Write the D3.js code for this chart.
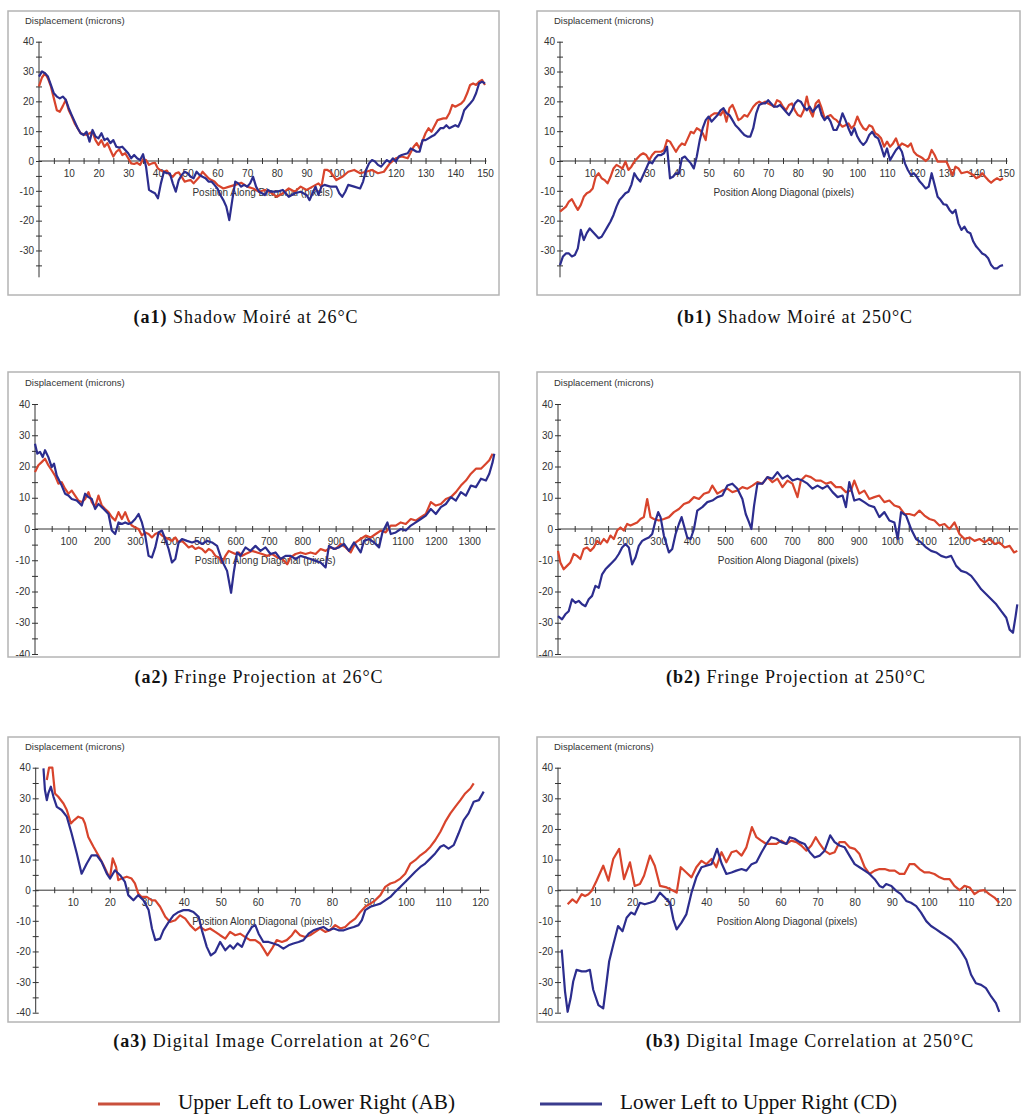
<!DOCTYPE html>
<html>
<head>
<meta charset="utf-8">
<script src="https://cdn.jsdelivr.net/npm/d3@7"></script>
<style>
  body { margin: 0; background: #fff; }
  svg { display: block; }
  .tick text { font-family: "Liberation Sans", Arial, sans-serif; font-size: 10px; fill: #333; }
  .axis path, .axis line { stroke: #333; }
</style>
</head>
<body>
<svg id="chart" width="1022" height="1114"></svg>
<script>
// ---- data: [position, displacement] ----
var a1Upper = [[0,25],[1,28],[2,29.4],[3,27.7],[4,25],[5,21],[6,17],[7,16.5],[8,18.4],[9,20.5],[10,17],[11,15],[12,12.6],[13,11],[14,9.3],[16,8.7],[18,9.8],[19,7],[20,5.4],[21,7],[22,4.8],[23,6],[24,3.7],[25,1.5],[26,3.1],[27,3.9],[28,2],[29,2.6],[30,0.9],[31,-0.8],[32,-1],[33,-0.6],[34,-1.3],[35,0.6],[36,0.3],[37,-1.3],[38,-0.8],[39,-0.6],[40,-2.5],[41,-3.2],[42,-3.6],[43,-3.2],[44,-4.7],[45,-5.3],[46,-4.1],[47,-3.8],[48,-5.3],[49,-6.9],[50,-6.6],[51,-6.4],[52,-7.5],[53,-6.4],[54,-5.3],[55,-3.6],[56,-4.7],[57,-5.8],[58,-6.4],[59,-6.9],[60,-8],[62,-9.2],[64,-8.6],[66,-8],[68,-7.3],[70,-8.6],[72,-9.2],[74,-10.3],[76,-9.7],[78,-10.6],[80,-12],[82,-10.8],[84,-9.2],[86,-10.3],[88,-8.6],[90,-9.7],[92,-8.6],[94,-7.5],[95,-8.6],[96,-3],[97,-3],[98,-3.6],[100,-6.4],[102,-5.3],[104,-3.6],[106,-3],[108,-4.1],[110,-3.6],[112,-3],[114,-4.1],[116,-3.6],[118,-0.8],[120,0.9],[122,1.5],[124,0.9],[126,4.8],[127,6],[128,4.2],[130,9.3],[131,11],[132,9.8],[134,13.7],[136,14.3],[137,14.3],[138,16],[139,18.8],[140,18.2],[142,19.3],[143,20.4],[144,22.7],[145,25.5],[146,26],[147,25.5],[148,26.6],[149,27.2],[150,25.5]];
var a1Lower = [[0,28.3],[1,30],[2,29.4],[3,28.3],[4,25.5],[5,22.7],[6,21.6],[7,21],[8,21.6],[9,20.5],[10,17.7],[11,15.4],[12,13.2],[13,11],[14,9.3],[15,8.7],[16,9.8],[17,6.5],[18,10.4],[19,8.2],[20,7.6],[21,9.3],[22,7],[23,7.6],[24,6],[25,7],[26,4.8],[27,4.5],[28,4.8],[29,3.7],[30,2.6],[31,0.9],[32,2],[33,0.9],[34,0.3],[35,2.3],[36,-1.9],[37,-9.7],[38,-10.3],[39,-10.8],[40,-12.5],[41,-7.5],[42,-3.6],[43,-4.1],[44,-4.1],[45,-7.5],[46,-10.3],[47,-6.4],[48,-4.7],[49,-3.6],[50,-4.1],[51,-5.3],[52,-5.8],[53,-3.6],[54,-4.7],[55,-5.3],[56,-5.8],[57,-6.9],[58,-6.9],[59,-8],[60,-9.2],[61,-11.4],[62,-13.1],[63,-15.3],[64,-19.8],[65,-13.1],[66,-6.9],[67,-7.5],[68,-8.6],[69,-8],[70,-8.6],[71,-7.5],[72,-5.3],[73,-8.6],[74,-10.3],[75,-10.8],[76,-11.4],[77,-9.7],[78,-10.3],[80,-10.3],[82,-9.7],[84,-12],[86,-10.8],[88,-10.3],[90,-11.4],[91,-13.1],[92,-10.8],[93,-8.6],[94,-11.4],[95,-8.6],[96,-8],[98,-8.6],[100,-8.6],[101,-10.8],[102,-12],[103,-10.3],[104,-8],[106,-8.6],[108,-9.2],[109,-6.9],[110,-3],[111,-0.8],[112,0.3],[113,-0.2],[114,-1.3],[115,-1.9],[116,-0.8],[117,0.3],[118,-0.4],[119,0.9],[120,-0.2],[121,1.5],[122,2],[124,2.6],[125,4.2],[126,3.7],[127,3.1],[128,3.1],[129,7],[130,7],[131,7.6],[132,8.2],[133,8.7],[134,9.8],[135,11],[136,11],[137,12],[138,11],[139,11.5],[140,12],[141,11.5],[142,13.7],[143,17],[144,18.2],[145,19.3],[146,20.5],[147,22.7],[148,26],[149,26.6],[150,26]];

var b1Upper = [[0,-17],[2,-15.3],[3,-13.6],[4,-12.8],[5,-14.7],[6,-16.4],[7,-14.7],[8,-12],[9,-10.8],[10,-10.3],[11,-9.2],[12,-5.3],[13,-4.1],[14,-5.8],[15,-6.4],[16,-7.5],[17,-5.3],[18,-2.5],[19,-1.3],[20,-1.9],[21,-2.5],[22,-0.2],[23,-3],[24,-1.9],[25,-0.2],[26,0.9],[27,2],[28,2.6],[29,2],[30,0.3],[31,2],[32,3.1],[33,3.1],[34,3.1],[35,3.7],[36,7],[37,6.5],[38,4.8],[39,3.1],[40,4.8],[41,5.9],[42,5.4],[43,7.6],[44,9.8],[45,9.3],[46,11],[47,10.4],[48,9.3],[49,7],[50,14.3],[51,15.4],[52,16],[53,16],[54,15.4],[55,17],[56,13.2],[57,17.7],[58,18.8],[59,16.5],[60,13.7],[61,14.3],[62,15.4],[63,14.9],[64,16.5],[65,18.2],[66,19.3],[67,19.9],[68,19.3],[69,19.9],[70,19.3],[71,18.8],[72,18.2],[73,20.4],[74,19.9],[75,18.2],[76,17],[77,18.8],[78,19.3],[79,17],[80,15.4],[81,14.9],[82,17],[83,21.6],[84,17],[85,14.9],[86,19.3],[87,20.4],[88,17.7],[89,14.3],[90,14.9],[91,15.4],[92,14.3],[93,13.7],[94,12.6],[95,11.5],[96,12],[97,12.6],[98,11],[99,12],[100,14.9],[101,12.6],[102,11],[103,10.4],[104,12],[105,11.5],[106,9.3],[107,8.7],[108,7.6],[109,4.8],[110,6.5],[111,4.8],[112,5.9],[113,7.6],[114,4.8],[115,5.9],[116,5.4],[117,4.8],[118,5.9],[119,3.1],[120,2],[121,1.5],[122,0.9],[123,0],[124,0.9],[125,3.7],[126,2],[127,-0.2],[128,-0.2],[130,-0.2],[131,-2.5],[132,-4.7],[133,-1.9],[134,-2.5],[135,-4.1],[137,-3.6],[139,-4.7],[140,-5.8],[141,-5.3],[142,-4.1],[143,-5.3],[144,-6.4],[145,-7.3],[146,-6.4],[147,-5.8],[148,-6.4],[149,-5.8]];
var b1Lower = [[0,-34.9],[1,-32],[2,-31],[3,-31],[4,-32],[5,-31.5],[6,-29.3],[7,-23.1],[8,-26.5],[9,-24.2],[10,-22.6],[11,-23.7],[12,-24.8],[13,-25.9],[14,-25.4],[15,-23.7],[16,-22],[17,-20.3],[18,-18.1],[19,-15.3],[20,-13.1],[21,-12],[22,-10.8],[23,-10.3],[24,-8],[25,-4.1],[26,-5.8],[27,-6.9],[28,-4.7],[29,-2.5],[30,-0.2],[31,-0.8],[32,0.9],[33,2],[34,2],[35,2.6],[36,4.8],[37,-5.8],[38,-5.3],[39,-4.1],[40,-4.1],[41,0.9],[42,1.5],[43,0.3],[44,-0.8],[45,-2.5],[46,1.5],[47,7],[48,11],[49,13.7],[50,14.9],[51,13.2],[52,14.3],[53,15.4],[54,17],[55,17.7],[56,16],[57,15.4],[58,13.7],[59,12],[60,11],[61,9.8],[62,8.7],[63,8.2],[64,8.2],[65,11],[66,16],[67,18.8],[68,19.3],[69,19.3],[70,20.4],[71,19.3],[72,18.2],[73,18.2],[74,18.8],[75,17.7],[76,16.5],[77,15.4],[78,17],[79,19.3],[80,20.4],[81,19.9],[82,18.2],[83,17],[84,18.2],[85,16.5],[86,17.7],[87,18.8],[88,15.4],[89,13.7],[90,14.9],[91,13.2],[92,10.4],[93,10.4],[94,12.6],[95,16],[96,13.7],[97,11],[98,8.7],[99,11],[100,8.2],[101,6.5],[102,5.4],[103,6.5],[104,8.7],[105,9.8],[106,8.2],[107,7.6],[108,4.8],[109,1.5],[110,4.2],[111,0.3],[112,2],[113,3.7],[114,4.8],[115,3.1],[116,-0.8],[117,-3],[118,-4.7],[119,-4.1],[120,-5.3],[121,-6.9],[122,-8],[123,-9.2],[124,-8.6],[125,-4.1],[126,-8],[127,-12],[128,-13.1],[129,-14.5],[130,-14.7],[131,-16.4],[132,-17.5],[133,-16.4],[134,-20.9],[135,-23.1],[136,-22],[137,-23.7],[138,-24.2],[139,-27],[140,-28.7],[141,-29.8],[142,-31],[143,-31.5],[144,-32.6],[145,-34.9],[146,-36],[147,-36],[148,-35.2],[149,-34.9]];

var a2Upper = [[0,18.2],[10,20.4],[20,21.4],[30,22.5],[40,20.4],[50,18.8],[60,17.1],[70,14.5],[80,15],[90,12.9],[100,11.3],[110,12.3],[120,10.7],[130,9.1],[140,8.6],[150,9.6],[160,11.8],[170,8.6],[180,7],[190,10.7],[200,7.5],[210,6.4],[220,5.4],[230,3.8],[240,2.7],[250,5.4],[260,3.2],[270,5.4],[280,2.7],[290,1.1],[300,0.5],[310,0],[320,-2.1],[330,-1.1],[340,-1.6],[350,-2.7],[360,-1.6],[370,-1.1],[380,-2.1],[390,-2.7],[400,-3.2],[410,-3.8],[420,-2.7],[430,-4.3],[440,-3.8],[450,-4.8],[460,-5.9],[470,-5.4],[480,-6.4],[490,-5.9],[500,-6.4],[510,-7.5],[520,-6.4],[530,-7],[540,-8.6],[550,-9.1],[560,-10.7],[570,-8.6],[580,-7],[590,-7.5],[600,-8],[610,-7.5],[620,-8.6],[630,-8],[640,-7.5],[650,-7],[665,-7.5],[680,-8],[695,-8.6],[710,-8],[725,-9.1],[740,-9.6],[755,-11.3],[765,-9.1],[780,-8],[795,-7.5],[810,-8],[825,-7.5],[840,-8],[855,-6.4],[870,-7],[885,-5.9],[900,-6.4],[915,-4.8],[930,-5.9],[945,-7.5],[960,-4.3],[975,-3.2],[990,-2.1],[1005,-2.7],[1020,-1.6],[1035,-0.5],[1050,-1.1],[1065,1.1],[1080,1.1],[1095,2.1],[1110,1.6],[1125,3.2],[1140,2.7],[1155,3.8],[1170,4.8],[1185,8.6],[1200,7.5],[1215,8],[1230,9.6],[1245,10.2],[1260,11.8],[1275,13.9],[1290,15.5],[1305,17.7],[1320,19.3],[1335,19.3],[1350,20.9],[1360,22],[1370,24.1]];
var a2Lower = [[0,27.3],[7,24.1],[15,24.7],[23,23],[30,25.2],[40,23],[50,19.8],[57,20.9],[65,17.1],[80,13.9],[90,11.3],[100,10.7],[110,9.6],[125,9.1],[140,7.5],[150,11.3],[160,10.2],[170,9.6],[180,6.4],[190,8],[200,7],[210,5.9],[220,4.8],[230,-0.5],[240,-1.6],[250,2.1],[260,1.6],[270,2.1],[280,1.6],[290,2.1],[300,3.2],[310,4.8],[320,2.1],[330,-2.1],[340,-8.6],[350,-9.1],[360,-5.9],[370,-1.1],[380,-0.5],[390,-3.2],[400,-6.4],[410,-10.7],[420,-9.6],[430,-4.3],[440,-3.2],[455,-3.8],[470,-4.3],[485,-3.8],[500,-4.8],[515,-3.8],[530,-4.3],[545,-5.4],[560,-10.2],[575,-13.4],[587,-20.4],[595,-13.9],[605,-7.5],[615,-8.6],[630,-5.9],[645,-7],[660,-5.4],[675,-7],[690,-5.9],[705,-8],[720,-7.5],[735,-9.6],[750,-8.6],[765,-8.6],[780,-9.6],[795,-8.6],[810,-9.1],[825,-9.6],[840,-10.2],[855,-10.7],[870,-12.3],[880,-5.4],[895,-6.4],[910,-5.9],[925,-4.8],[940,-7],[955,-4.3],[975,-7.5],[985,-3.8],[1000,-3.2],[1015,-4.3],[1030,-5.9],[1040,-1.1],[1055,2.1],[1065,-1.6],[1080,-1.1],[1095,0],[1110,-0.5],[1125,1.1],[1140,2.1],[1155,3.2],[1170,4.3],[1185,6.4],[1200,4.8],[1215,7],[1230,8],[1245,10.2],[1260,9.1],[1275,11.8],[1290,10.7],[1305,13.9],[1320,13.4],[1335,16.1],[1350,15.5],[1360,17.7],[1370,21.4],[1375,24.1]];

var b2Upper = [[0,-7],[7,-10.7],[17,-12.9],[27,-11.8],[37,-10.7],[47,-8],[57,-8.6],[67,-9.6],[77,-6.4],[87,-5.9],[97,-7],[107,-5.9],[117,-3.8],[127,-4.8],[137,-3.2],[147,-4.3],[157,-2.1],[167,-3.2],[177,-0.5],[187,0.5],[197,-0.5],[207,1.6],[217,1.1],[227,1.6],[237,2.1],[247,3.2],[257,3.8],[267,9.6],[277,3.8],[287,3.2],[302,2.7],[317,3.2],[332,3.8],[347,5.4],[362,6.4],[377,8],[392,8.6],[407,10.2],[422,9.6],[437,11.3],[452,11.8],[462,13.9],[477,11.3],[492,12.3],[507,12.9],[522,11.8],[537,12.3],[552,13.4],[567,12.9],[582,13.9],[597,15],[612,14.5],[627,16.6],[642,15],[657,16.1],[672,13.4],[687,15.5],[702,14.5],[717,10.2],[727,15.5],[742,17.1],[757,16.6],[772,15.5],[787,15.5],[802,14.5],[817,15],[832,13.4],[847,13.4],[862,11.8],[877,12.3],[887,15.5],[902,11.3],[917,12.3],[932,9.6],[947,10.2],[962,10.7],[977,8.6],[992,9.1],[1007,7.5],[1022,7],[1037,4.8],[1052,4.8],[1067,4.3],[1082,5.9],[1097,4.3],[1112,3.2],[1127,2.7],[1142,1.1],[1157,1.6],[1172,0],[1187,2.1],[1202,-1.6],[1217,-3.2],[1232,-2.7],[1247,-3.8],[1262,-3.2],[1277,-4.3],[1292,-3.2],[1307,-4.8],[1322,-4.3],[1337,-5.9],[1352,-5.4],[1365,-7.5],[1375,-7]];
var b2Lower = [[0,-27.9],[12,-28.9],[22,-27.3],[32,-26.3],[42,-22.5],[52,-23.6],[62,-23],[72,-24.1],[82,-24.7],[92,-22.5],[102,-21.4],[112,-18.2],[122,-18.8],[132,-14.5],[142,-12.9],[152,-11.8],[162,-10.7],[172,-9.6],[182,-8],[192,-5.9],[202,-4.8],[212,-5.9],[222,-11.3],[232,-9.1],[242,-5.4],[252,-3.8],[262,-3.2],[272,-2.7],[282,-1.6],[292,2.7],[300,5.4],[307,3.8],[317,-2.1],[332,-7.5],[342,-6.4],[352,-1.6],[362,1.6],[370,3.8],[377,1.1],[387,-2.7],[397,-3.2],[407,0],[417,5.9],[432,7],[447,8.6],[462,9.1],[477,10.2],[492,10.7],[507,13.9],[522,14.5],[537,12.9],[552,9.6],[562,4.8],[572,2.1],[579,0],[587,7.5],[597,14.5],[612,14.5],[627,16.6],[642,16.1],[657,18.2],[672,16.1],[687,17.1],[702,15.5],[717,16.1],[732,15.5],[747,14.5],[762,12.9],[777,13.9],[792,12.9],[807,13.9],[822,11.8],[837,10.2],[852,10.7],[862,7],[872,15],[887,9.1],[902,9.6],[917,8.6],[932,7.5],[947,7],[962,3.8],[977,5.4],[992,2.7],[1007,2.1],[1017,-3.2],[1027,5.4],[1042,4.3],[1057,0],[1072,-3.2],[1087,-4.3],[1102,-5.9],[1117,-7],[1132,-7.5],[1147,-8.6],[1162,-9.1],[1177,-8.6],[1192,-11.8],[1207,-13.4],[1222,-13.9],[1237,-15],[1252,-17.1],[1267,-19.3],[1282,-20.9],[1297,-22.5],[1312,-24.1],[1327,-26.3],[1342,-28.4],[1352,-32.2],[1362,-33.2],[1370,-27.9],[1375,-24.1]];

var a3Upper = [[3,36],[3.6,40],[4.5,40],[5.2,31.6],[6.1,30.5],[7.5,28.3],[8.4,26.2],[9.5,21.8],[10.4,22.9],[11.5,24],[12.7,23.4],[13.3,21.8],[14.2,17.4],[15.6,14.2],[16.9,11.4],[18.3,8.2],[19.6,4.9],[20.1,4.4],[20.8,10.4],[21.7,7.6],[22.3,3.3],[23.2,3.8],[24.6,4.4],[25.9,3.8],[26.8,2.2],[27.7,-1.1],[28.6,-2.2],[30,-2.2],[31.4,-3.3],[32.3,-3.3],[33.6,-5.4],[35,-8.7],[36.3,-10.4],[37.7,-9.8],[39,-8.2],[40.4,-9.3],[41.7,-11.4],[43.1,-13.1],[44.4,-12],[45.8,-13.1],[47.1,-12.5],[48.5,-13.6],[49.8,-14.7],[51.2,-15.8],[52.5,-13.6],[53.9,-14.7],[55.2,-14.2],[56.6,-15.3],[57.9,-16.3],[59.3,-16.3],[60.6,-17.4],[61.5,-19.1],[62.6,-21.3],[63.8,-19.1],[65.1,-16.3],[66.5,-16.9],[67.8,-16.3],[69.2,-14.7],[70.1,-13.1],[71.4,-14.7],[72.8,-15.3],[74.1,-14.7],[75.5,-13.6],[76.8,-12.5],[78.2,-13.6],[79.5,-13.1],[80.9,-11.4],[82.3,-12.5],[83.6,-12],[85,-10.4],[86.3,-9.3],[87.7,-7.1],[89,-5.4],[90.4,-4.4],[91.7,-3.3],[93.1,-1.6],[94.4,1.1],[95.8,2.2],[97.1,2.7],[98.5,3.8],[99.8,5.4],[101.2,8.7],[102.5,9.8],[103.9,11.4],[105.2,12.5],[106.6,14.2],[107.9,16.3],[109.3,19.1],[110.6,22.3],[112,25.1],[113.3,27.2],[114.7,29.4],[116,31.6],[117.4,33.2],[118.3,34.9]];
var a3Lower = [[2.1,39.8],[2.5,32.7],[3,29.4],[3.4,31.6],[4.1,33.8],[4.8,30.5],[5.7,27.2],[7,26.2],[8.4,24],[9.7,18.5],[11.1,12],[12.4,5.4],[13.8,8.7],[15.1,11.4],[16.5,11.4],[17.8,9.3],[19.2,5.4],[20.1,3.8],[21.4,6.5],[22.8,4.9],[24.1,2.7],[25,-1.6],[26.4,-3.3],[27.7,-1.6],[29.1,-3.3],[30.5,-6.5],[31.4,-12.5],[32.3,-16.3],[33.6,-15.8],[34.5,-13.1],[35.9,-10.4],[37.2,-8.2],[38.6,-7.1],[39.9,-6.5],[41.3,-6.5],[42.6,-7.1],[44,-8.7],[44.9,-13.1],[46.2,-18.5],[47.3,-21.3],[48.5,-20.2],[49.8,-16.9],[51.2,-19.6],[52.5,-18],[53.4,-19.1],[54.5,-17.4],[55.7,-18.5],[57,-14.7],[58.4,-12],[59.3,-11.4],[60.2,-14.2],[61.5,-16.9],[62.9,-16.9],[64.2,-17.4],[65.6,-18],[66.9,-19.1],[68.3,-18],[69.6,-17.4],[71,-16.9],[72.3,-16.3],[73.7,-14.2],[75,-13.1],[76.4,-12.5],[77.7,-12],[79.1,-13.1],[80.5,-12.5],[81.8,-13.1],[83.2,-13.1],[84.5,-12.5],[85.9,-12],[87.2,-11.4],[88.1,-9.8],[89,-6.5],[90.4,-5.4],[91.7,-4.9],[93.1,-4.4],[94.4,-3.3],[95.8,-2.2],[97.1,-0.5],[98.5,1.1],[99.8,2.7],[101.2,4.4],[102.5,6],[103.9,7.6],[105.2,8.7],[106.6,10.4],[107.9,12],[109.3,14.2],[110.2,14.7],[111.5,13.6],[112.9,14.7],[114.2,18.5],[115.6,22.9],[116.9,25.1],[118.3,28.9],[119.7,29.4],[121,32.2]];

var b3Upper = [[2.6,-4.6],[3.9,-3],[5,-4.1],[6.4,-1.3],[7.3,-1.9],[8.2,-1.3],[9.1,-0.2],[10.4,3.1],[12.2,8],[13.6,3.1],[14.9,10.2],[16.5,13.5],[17.8,3.6],[19.4,9.1],[20.7,1.4],[22.1,2],[23.2,4.7],[24.8,11.3],[26.1,8],[27.5,1.4],[29.3,0.9],[31.1,-0.2],[32,-0.8],[33.1,7.5],[34.6,5.8],[36,4.2],[37.3,7.5],[38.7,9.6],[40,8.5],[41.4,10.2],[42.7,7.5],[44.1,12.4],[45.4,9.1],[46.8,12.4],[48.1,12.9],[49.5,11.3],[50.8,14],[52.3,20.6],[53.5,17.3],[54.8,16.2],[56.2,15.1],[57.5,15.1],[58.9,15.1],[60.2,16.2],[61.6,15.1],[62.9,16.2],[64.3,15.7],[65.6,14.6],[67,12.9],[68.3,14.6],[69.5,17.3],[70.6,15.1],[71.9,12.9],[73.3,11.8],[74.6,12.4],[75.9,15.7],[77.3,15.7],[78.6,14],[80,13.5],[81.3,11.8],[82.7,7.5],[84,5.3],[85.4,6.4],[86.7,6.9],[88.1,6.9],[89.4,6.4],[90.8,6.4],[92.1,5.3],[93.4,5.3],[94.8,8.5],[96.1,8.5],[97.5,6.9],[98.8,5.8],[100.2,5.8],[101.5,5.3],[102.9,4.2],[104.2,3.6],[105.6,3.6],[106.9,1.4],[108.3,0],[109.6,1.4],[111,0.9],[112.3,-1.3],[113.6,-0.2],[115,0],[116.3,-1.3],[117.7,-2.4],[119,-4.1]];
var b3Lower = [[1,-19.4],[1.9,-33.1],[2.6,-39.7],[3.4,-35.3],[4.1,-29.8],[5,-26],[6.4,-26.5],[7.5,-26.5],[8.6,-26],[9.5,-32.5],[10.9,-37.5],[12.2,-38.6],[12.9,-32],[13.8,-23.2],[14.9,-17.8],[16.2,-11.7],[17.4,-13.4],[18.5,-9],[19.7,-7.3],[20.7,-7.9],[22.1,-4.1],[23.4,-4.6],[24.8,-4.1],[26.1,-3.5],[27.5,-0.8],[28.8,-2.4],[30.2,-4.1],[31.1,-9.5],[32,-12.8],[33.3,-10.6],[34.6,-7.9],[36,-0.8],[37.3,4.2],[38.7,7.5],[40,8],[41.4,8.5],[42.9,13.5],[44.1,8.8],[45.4,5.3],[46.8,5.8],[48.1,6.4],[49.5,6.9],[50.8,6.4],[52.2,8.5],[53.5,9.1],[54.9,12.4],[56.2,15.1],[57.5,17.3],[58.9,16.8],[60.2,15.7],[61.6,15.1],[62.5,17.3],[63.8,16.8],[65.2,15.7],[66.5,15.1],[67.9,12.4],[69.2,10.7],[70.6,11.3],[71.9,12.9],[73.4,17.9],[74.6,15.7],[75.9,14.6],[77.3,14],[78.6,11.3],[80,8.5],[81.3,7.5],[82.7,6.4],[84,5.3],[85.4,3.6],[86.7,1.4],[87.6,0.9],[88.5,2],[89.9,1.4],[91.2,-0.2],[92.5,-1.3],[93.9,-3.5],[95.2,-4.1],[96.6,-5.2],[97.9,-7.3],[99.3,-10.1],[100.6,-11.7],[102,-12.8],[103.3,-13.9],[104.7,-15],[106,-16.1],[107.4,-17.8],[108.7,-19.9],[110.1,-22.7],[111.4,-27.6],[112.7,-30.4],[114.1,-30.9],[115.4,-32],[116.8,-34.7],[118.1,-36.9],[119,-39.7]];

var captionTags = ["(a1)", "(b1)", "(a2)", "(b2)", "(a3)", "(b3)"];
var captionTexts = [" Shadow Moiré at 26°C", " Shadow Moiré at 250°C", " Fringe Projection at 26°C",
                    " Fringe Projection at 250°C", " Digital Image Correlation at 26°C", " Digital Image Correlation at 250°C"];
var legendLabels = ["Upper Left to Lower Right (AB)", "Lower Left to Upper Right (CD)"];
var yAxisTitle = "Displacement (microns)";
var xAxisTitle = "Position Along Diagonal (pixels)";

var RED = "#d8442c", BLUE = "#2c2d8e";

// panel layout (pixels) built around the data above
var panels = [
  {box: [8, 11, 499, 295], xd: [0, 150], xr: [39, 485], xEnd: 150.5, yr: [280.3, 41.7], yMin: -39, xStep: 5, xLab: 10, lines: [a1Upper, a1Lower], cap: [246, 323]},
  {box: [537, 11, 1020, 295], xd: [0, 150], xr: [560, 1006], xEnd: 150.5, yr: [280.3, 41.7], yMin: -39, xStep: 5, xLab: 10, lines: [b1Upper, b1Lower], cap: [795, 323]},
  {box: [8, 372, 499, 657], xd: [0, 1375], xr: [35, 494.3], xEnd: 1378, yr: [654, 404], yMin: -40, xStep: 50, xLab: 100, lines: [a2Upper, a2Lower], cap: [259, 683]},
  {box: [537, 372, 1020, 657], xd: [0, 1375], xr: [558, 1017.3], xEnd: 1378, yr: [654, 404], yMin: -40, xStep: 50, xLab: 100, lines: [b2Upper, b2Lower], cap: [796, 683]},
  {box: [8, 737, 499, 1022], xd: [0, 120], xr: [35.7, 480], xEnd: 122.5, yr: [1012.7, 767.7], yMin: -40, xStep: 5, xLab: 10, lines: [a3Upper, a3Lower], cap: [272, 1047]},
  {box: [537, 737, 1020, 1022], xd: [0, 120], xr: [558, 1003], xEnd: 123.5, yr: [1012.7, 767.7], yMin: -40, xStep: 5, xLab: 10, lines: [b3Upper, b3Lower], cap: [810, 1047]}
];

var svg = d3.select("#chart");

function crossTicks(g, vertical) {
  g.select(".domain").remove();
  g.selectAll(".tick line")
    .attr(vertical ? "x1" : "y1", -3)
    .attr(vertical ? "x2" : "y2", 3)
    .attr("stroke-width", 1);
}

panels.forEach(function(p, i) {
  var b = p.box;
  var x = d3.scaleLinear().domain(p.xd).range(p.xr);
  var y = d3.scaleLinear().domain([-40, 40]).range(p.yr);
  var clipId = "clip" + i;

  svg.append("clipPath").attr("id", clipId)
    .append("rect").attr("x", b[0]).attr("y", b[1]).attr("width", b[2] - b[0]).attr("height", b[3] - b[1]);

  var g = svg.append("g").attr("clip-path", "url(#" + clipId + ")");

  // x axis at y = 0
  var xTicks = d3.range(p.xStep, p.xEnd, p.xStep);
  var xg = g.append("g").attr("class", "axis")
    .attr("transform", "translate(0," + y(0) + ")")
    .call(d3.axisBottom(x).tickValues(xTicks).tickSize(3).tickPadding(6)
      .tickFormat(function(d) { return d % p.xLab === 0 ? d : ""; }));
  crossTicks(xg, false);
  xg.append("line").attr("x1", x(0)).attr("x2", x(p.xEnd)).attr("stroke", "#333");

  // y axis at x = 0
  var yTicks = d3.range(p.yMin <= -40 ? -40 : -35, 40.1, 5);
  var yg = g.append("g").attr("class", "axis")
    .attr("transform", "translate(" + x(0) + ",0)")
    .call(d3.axisLeft(y).tickValues(yTicks).tickSize(3).tickPadding(2)
      .tickFormat(function(d) { return d % 10 === 0 ? d : ""; }));
  crossTicks(yg, true);
  yg.append("line").attr("y1", y(40)).attr("y2", y(p.yMin)).attr("stroke", "#333");

  // axis titles
  g.append("text").attr("x", b[0] + 17).attr("y", y(40) - 18)
    .attr("font-family", "Liberation Sans, Arial, sans-serif").attr("font-size", 9.5).attr("fill", "#333")
    .text(yAxisTitle);
  g.append("text").attr("x", (x(0) + x(p.xEnd)) / 2).attr("y", y(0) + 35)
    .attr("text-anchor", "middle")
    .attr("font-family", "Liberation Sans, Arial, sans-serif").attr("font-size", 10).attr("fill", "#333")
    .text(xAxisTitle);

  // curves
  var line = d3.line().x(function(d) { return x(d[0]); }).y(function(d) { return y(d[1]); });
  [RED, BLUE].forEach(function(c, k) {
    g.append("path").datum(p.lines[k])
      .attr("d", line).attr("fill", "none").attr("stroke", c)
      .attr("stroke-width", 2.2).attr("stroke-linejoin", "round");
  });

  // frame
  svg.append("rect").attr("x", b[0]).attr("y", b[1]).attr("width", b[2] - b[0]).attr("height", b[3] - b[1])
    .attr("fill", "none").attr("stroke", "#b4b4b4").attr("stroke-width", 1.5);

  // caption
  var t = svg.append("text").attr("x", p.cap[0]).attr("y", p.cap[1]).attr("text-anchor", "middle")
    .attr("font-family", "Liberation Serif, Times New Roman, serif").attr("font-size", 18)
    .attr("letter-spacing", 1.0).attr("fill", "#111");
  t.append("tspan").attr("font-weight", "bold").text(captionTags[i]);
  t.append("tspan").text(captionTexts[i]);
});

// legend
var legendX = [98, 540];
var legendColors = ["#c9503c", "#3a3c8e"];
legendLabels.forEach(function(lab, k) {
  svg.append("line").attr("x1", legendX[k]).attr("x2", legendX[k] + 62)
    .attr("y1", 1104).attr("y2", 1104).attr("stroke", legendColors[k]).attr("stroke-width", 3);
  svg.append("text").attr("x", legendX[k] + 80).attr("y", 1109)
    .attr("font-family", "Liberation Serif, Times New Roman, serif").attr("font-size", 20).attr("fill", "#111")
    .attr("textLength", 277).attr("lengthAdjust", "spacingAndGlyphs")
    .text(lab);
});
</script>
</body>
</html>
